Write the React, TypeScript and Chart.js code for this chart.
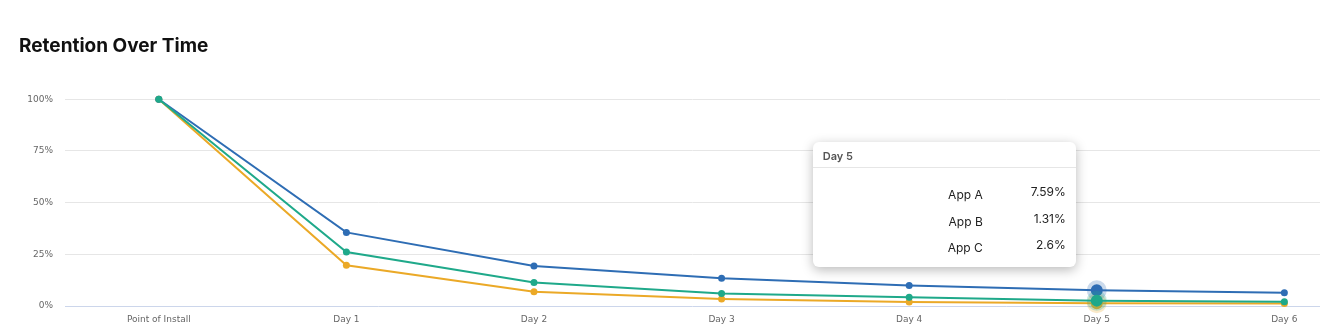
import React, { useEffect, useRef } from 'react';
import { Chart, registerables } from 'chart.js';

Chart.register(...registerables);

const categories = ['Point of Install', 'Day 1', 'Day 2', 'Day 3', 'Day 4', 'Day 5', 'Day 6'];
const seriesNames = ['App A', 'App B', 'App C'];
const appA = [100, 35.6, 19.3, 13.4, 9.9, 7.59, 6.4];
const appB = [100, 19.7, 6.9, 3.4, 1.9, 1.31, 1.2];
const appC = [100, 26.1, 11.4, 6.1, 4.2, 2.6, 2.1];
const seriesColors = ['#2E6DB4', '#EBA927', '#1FA98A'];
const haloColors = ['rgba(46,109,180,0.25)', 'rgba(235,169,39,0.25)', 'rgba(31,169,138,0.25)'];
const drawOrder = [1, 2, 0];
const yTickValues = [0, 25, 50, 75, 100];
const activeIndex = 5;

export default function App() {
  const canvasRef = useRef<HTMLCanvasElement | null>(null);
  const tipRef = useRef<HTMLDivElement | null>(null);

  useEffect(() => {
    const canvas = canvasRef.current;
    if (!canvas) return;
    const values = [appA, appB, appC];
    const chart = new Chart(canvas, {
      type: 'line',
      data: {
        datasets: values.map((vals, d) => ({
          label: seriesNames[d],
          data: vals.map((v, i) => ({ x: i, y: v })),
          borderColor: seriesColors[d],
          backgroundColor: seriesColors[d],
          borderWidth: 2,
          pointRadius: 3.5,
          pointBorderWidth: 0,
          pointBackgroundColor: seriesColors[d],
          pointHoverRadius: 6,
          pointHoverBorderWidth: 8,
          pointHoverBorderColor: haloColors[d],
          pointHoverBackgroundColor: seriesColors[d],
          tension: 0,
          clip: false,
          order: drawOrder[d],
        })),
      },
      options: {
        responsive: false,
        animation: false,
        events: [],
        interaction: { mode: 'index', intersect: false },
        layout: { autoPadding: false, padding: { left: 19, top: 0, right: 0, bottom: 0 } },
        scales: {
          x: {
            type: 'linear',
            min: -0.5,
            max: 6.19,
            afterBuildTicks: (scale: any) => {
              scale.ticks = categories.map((_, i) => ({ value: i }));
            },
            afterFit: (scale: any) => {
              scale.height = 24;
              scale.paddingLeft = 0;
              scale.paddingRight = 0;
            },
            ticks: {
              autoSkip: false,
              maxRotation: 0,
              padding: 8,
              color: '#666',
              font: { family: 'DejaVu Sans', size: 9 },
              callback: (v: any) => categories[Number(v)] ?? '',
            },
            grid: { display: false, drawTicks: false },
            border: { display: false },
          },
          y: {
            min: 0,
            max: 100,
            afterBuildTicks: (scale: any) => {
              scale.ticks = yTickValues.map((v) => ({ value: v }));
            },
            afterFit: (scale: any) => {
              scale.width = 46;
            },
            ticks: {
              padding: 12,
              color: '#666',
              font: { family: 'DejaVu Sans', size: 9 },
              callback: (v: any) => `${v}%`,
            },
            grid: {
              drawTicks: false,
              color: (ctx: any) => (ctx.tick && ctx.tick.value === 0 ? '#ccd6eb' : '#e6e6e6'),
              lineWidth: 1,
            },
            border: { display: false },
          },
        },
        plugins: {
          legend: { display: false },
          title: {
            display: true,
            text: 'Retention Over Time',
            align: 'start',
            color: '#111',
            font: { family: 'Inter', size: 19, weight: 'bold' },
            padding: { top: 35, bottom: 41.5 },
          },
          tooltip: {
            enabled: false,
            external: (context: any) => {
              const el = tipRef.current;
              if (!el) return;
              const tt = context.tooltip;
              if (!tt || tt.opacity === 0 || !tt.dataPoints || !tt.dataPoints.length) {
                el.style.display = 'none';
                return;
              }
              const area = context.chart.chartArea;
              const points = [...tt.dataPoints].sort((a: any, b: any) => a.datasetIndex - b.datasetIndex);
              const rows = points
                .map(
                  (p: any) =>
                    `<div style="display:flex;height:26.5px;align-items:center;">` +
                    `<div style="width:170px;text-align:right;">${p.dataset.label}</div>` +
                    `<div style="width:83px;text-align:right;position:relative;top:-3px;">${p.parsed.y}%</div>` +
                    `</div>`
                )
                .join('');
              el.innerHTML =
                `<div style="height:25px;line-height:28px;padding-left:10px;font-size:11px;font-weight:600;color:#555;border-bottom:1px solid #e6e6e6;">${categories[points[0].dataIndex]}</div>` +
                `<div style="padding-top:13px;">${rows}</div>`;
              el.style.display = 'block';
              el.style.left = `${tt.caretX - 284}px`;
              el.style.top = `${area.top + 43}px`;
            },
          },
        },
      },
    } as any);

    const active = seriesNames.map((_, d) => ({ datasetIndex: d, index: activeIndex }));
    chart.setActiveElements(active);
    const meta = chart.getDatasetMeta(0);
    const pt: any = meta.data[activeIndex];
    chart.tooltip?.setActiveElements(active, { x: pt.x, y: pt.y });
    chart.update();

    return () => chart.destroy();
  }, []);

  return (
    <div style={{ position: 'absolute', left: 0, top: 0, width: 1320, height: 330, background: '#fff', overflow: 'hidden' }}>
      <canvas ref={canvasRef} width={1320} height={330} style={{ display: 'block' }} />
      <div
        ref={tipRef}
        style={{
          position: 'absolute',
          display: 'none',
          width: 263,
          height: 125,
          background: '#fff',
          borderRadius: 6,
          boxShadow: '0 3px 12px rgba(0,0,0,0.28)',
          fontFamily: 'Inter, sans-serif',
          fontSize: 12,
          color: '#222',
          boxSizing: 'border-box',
          pointerEvents: 'none',
        }}
      />
    </div>
  );
}
